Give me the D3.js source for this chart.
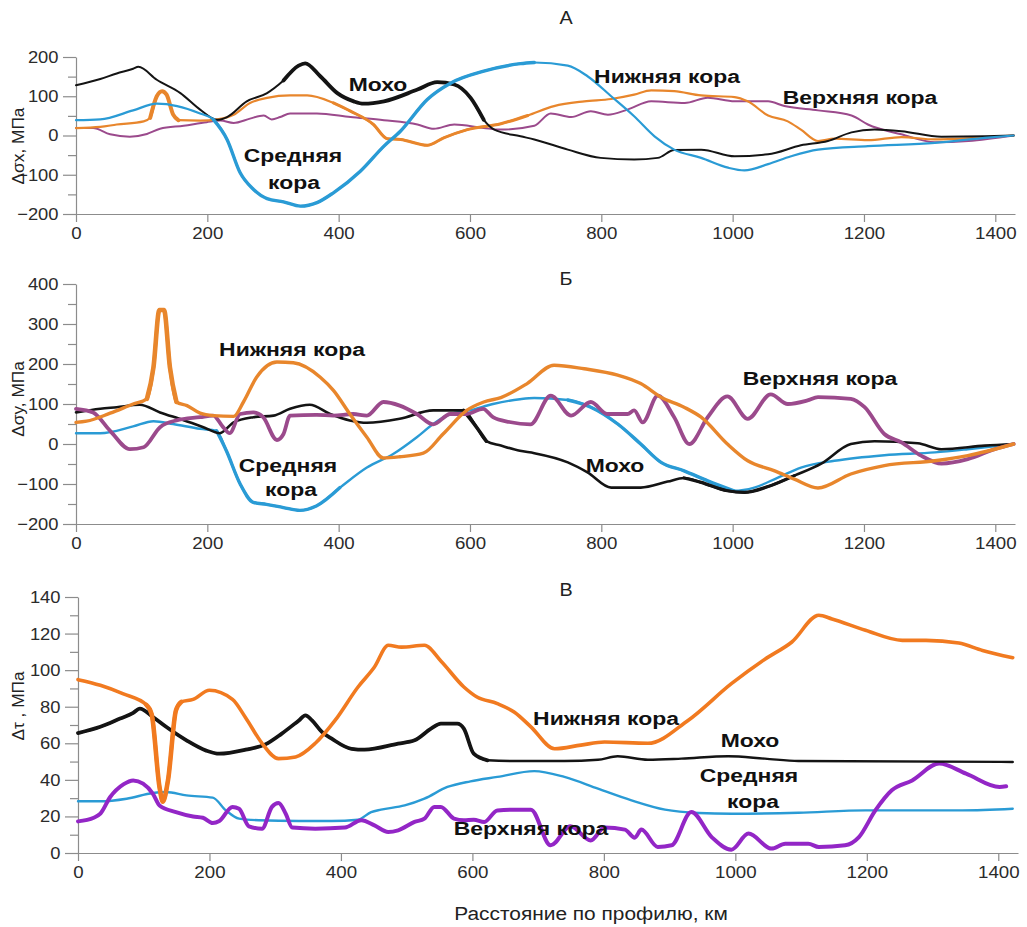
<!DOCTYPE html>
<html>
<head>
<meta charset="utf-8">
<script src="https://cdn.jsdelivr.net/npm/d3@7"></script>
<style>
  html, body { margin: 0; padding: 0; background: #fff; }
  svg { display: block; font-family: "Liberation Sans", Arial, sans-serif; }
</style>
</head>
<body>
<svg id="chart" width="1027" height="927"></svg>
<script>
// ---- shared axis values ----
const distanceTicks = [0, 200, 400, 600, 800, 1000, 1200, 1400];
const sxTicks = [-200, -100, 0, 100, 200];
const syTicks = [-200, -100, 0, 100, 200, 300, 400];
const tauTicks = [0, 20, 40, 60, 80, 100, 120, 140];

// ---- panel А: Δσx, MPa  ([distance km, value]) ----
const sxMoho = [[0,128],[37,144],[62,158],[87,170],[95,175],[123,142],[159,108],[189,66],[215,40],[230,47],[260,87],[291,108],[316,140],[339,178],[349,184],[372,151],[398,108],[423,87],[438,81],[469,87],[520,117],[550,136],[576,130],[601,96],[621,40],[637,15],[677,-2],[698,-10],[749,-36],[799,-57],[850,-61],[886,-57],[911,-37],[952,-36],[1003,-53],[1054,-48],[1104,-25],[1145,-14],[1181,8],[1216,15],[1257,11],[1318,-3],[1384,-2],[1428,0]];
const sxMiddle = [[0,39],[37,41],[87,64],[123,81],[154,75],[189,56],[209,41],[230,-10],[250,-95],[270,-137],[291,-161],[316,-169],[342,-180],[367,-171],[392,-146],[433,-91],[469,-27],[494,11],[535,92],[571,134],[621,164],[677,183],[698,186],[749,178],[779,151],[815,100],[850,49],[881,-2],[911,-36],[952,-57],[993,-82],[1018,-89],[1054,-73],[1089,-53],[1130,-36],[1206,-27],[1308,-19],[1384,-6],[1428,0]];
const sxLower = [[0,19],[37,22],[62,28],[103,36],[113,45],[123,100],[131,113],[138,104],[148,53],[156,39],[189,38],[215,41],[240,53],[265,83],[291,96],[326,102],[352,102],[392,83],[418,62],[453,28],[474,-8],[494,-10],[535,-25],[560,-6],[596,15],[647,30],[688,51],[728,75],[774,87],[815,93],[850,104],[876,115],[911,113],[952,102],[1003,98],[1023,87],[1054,51],[1084,36],[1104,15],[1130,-14],[1155,-8],[1206,-12],[1257,-4],[1308,-10],[1369,-6],[1428,0]];
const sxUpper = [[0,19],[26,19],[52,3],[82,-3],[108,4],[128,17],[164,25],[199,34],[220,38],[240,32],[265,43],[286,51],[298,41],[311,47],[326,56],[367,56],[418,47],[469,39],[520,28],[545,17],[576,28],[621,19],[647,15],[698,25],[723,56],[754,47],[784,62],[810,53],[840,66],[876,87],[927,83],[962,96],[1003,87],[1054,87],[1079,75],[1130,64],[1181,51],[1206,28],[1257,3],[1308,-17],[1359,-14],[1428,0]];

// ---- panel Б: Δσy, MPa ----
const syMoho = [[0,79],[37,88],[62,92],[97,98],[128,79],[163,60],[194,42],[219,27],[240,54],[270,67],[301,71],[326,88],[356,98],[387,75],[417,59],[443,53],[493,63],[544,84],[590,84],[610,42],[625,7],[647,-4],[676,-17],[698,-23],[749,-46],[779,-71],[815,-109],[860,-109],[901,-94],[926,-85],[952,-96],[992,-117],[1018,-121],[1053,-107],[1094,-79],[1135,-49],[1180,0],[1216,7],[1282,2],[1318,-13],[1384,-4],[1428,0]];
const syMiddle = [[0,27],[37,27],[87,44],[118,57],[148,50],[189,38],[214,33],[229,-17],[250,-100],[270,-146],[290,-151],[316,-159],[341,-166],[366,-155],[402,-109],[443,-59],[483,-25],[519,17],[544,50],[570,75],[600,84],[635,100],[676,112],[698,115],[749,110],[784,92],[825,50],[860,0],[891,-46],[926,-67],[962,-92],[1002,-117],[1033,-109],[1069,-84],[1104,-59],[1155,-42],[1231,-28],[1308,-21],[1358,-13],[1428,0]];
const syLower = [[0,54],[16,57],[52,77],[87,100],[108,113],[118,192],[127,335],[134,335],[143,192],[153,105],[169,96],[189,77],[209,71],[240,69],[255,105],[275,167],[306,205],[331,203],[372,167],[392,134],[417,75],[443,17],[468,-35],[493,-32],[529,-23],[559,25],[595,84],[621,105],[647,116],[687,151],[728,197],[774,188],[825,172],[860,151],[891,117],[926,92],[952,67],[992,0],[1023,-42],[1064,-67],[1094,-88],[1130,-110],[1180,-75],[1231,-54],[1308,-42],[1358,-29],[1428,0]];
const syUpper = [[0,88],[26,79],[52,33],[82,-13],[103,-8],[128,42],[153,59],[189,67],[209,71],[224,42],[234,27],[250,75],[270,79],[285,67],[306,10],[316,25],[326,71],[366,73],[392,71],[422,75],[443,71],[468,105],[493,96],[519,75],[544,49],[570,75],[595,75],[620,88],[635,67],[660,55],[692,49],[723,121],[754,71],[784,105],[809,75],[840,75],[850,84],[863,54],[886,121],[911,67],[934,0],[962,67],[992,119],[1023,63],[1058,124],[1084,100],[1114,109],[1130,117],[1180,113],[1201,92],[1231,25],[1257,4],[1287,-29],[1318,-49],[1358,-38],[1399,-13],[1428,0]];

// ---- panel В: Δτ, MPa ----
const tauLower = [[0,94.8],[34,91.7],[69,87],[104,81],[112,76],[124,36],[129,28],[137,40],[149,78],[157,82.6],[175,84],[200,89],[235,84],[255,74],[280,60],[305,51.6],[331,52.5],[361,60],[391,72.5],[426,90.8],[451,101.7],[472,113.6],[492,112.6],[527,113.6],[552,105],[587,90.8],[607,85.3],[638,81.7],[664,77],[689,69],[725,57],[765,59],[801,60.7],[867,60],[928,72.5],[994,92.6],[1045,106],[1086,115.4],[1127,130],[1147,128],[1198,121.8],[1254,116.3],[1290,116.3],[1340,114.8],[1376,110.8],[1422,106.8]];
const tauMoho = [[0,65.6],[34,69],[64,73.5],[84,76.6],[94,79],[114,74.4],[134,69],[165,61.6],[195,56],[215,54.3],[255,56.5],[285,59.4],[310,65.3],[336,72.5],[346,75.3],[356,72.5],[371,66.2],[386,62.5],[416,57],[436,56.5],[487,59.8],[512,61.6],[537,68],[552,70.7],[577,70.7],[587,68],[602,54.3],[623,50.7],[668,50.3],[740,50.3],[791,51],[821,52.9],[867,51],[918,51.6],[989,52.9],[1045,51.6],[1096,50.3],[1422,49.8]];
const tauMiddle = [[0,28.3],[34,28.3],[74,29.7],[114,32.8],[134,33.4],[165,31.5],[205,30.3],[225,23.3],[245,18.8],[275,17.9],[336,17.5],[386,17.5],[426,18.2],[446,22.4],[461,23.7],[497,26],[527,29.7],[562,36.1],[597,39.2],[638,41.6],[694,44.8],[740,41.6],[791,35.2],[842,28.8],[893,23.7],[944,21.9],[994,21.5],[1096,22],[1198,23.3],[1345,23.3],[1422,24.2]];
const tauUpper = [[0,17.3],[24,19.3],[34,21.5],[49,30.6],[69,37.5],[84,39.7],[99,37.9],[114,32.4],[124,26],[149,22.4],[175,20],[190,19.3],[205,16.4],[215,17.5],[235,25.2],[245,24.2],[260,14.6],[280,13.3],[295,25.2],[305,27.3],[316,21.5],[326,13.9],[361,13.3],[406,13.9],[431,17.9],[451,15.1],[472,11.5],[487,12.4],[512,17],[527,18.8],[542,25.2],[552,25.2],[572,18.8],[587,17.9],[602,18.2],[618,17],[638,23.3],[668,23.7],[689,23.7],[719,4.2],[749,14.6],[780,6.9],[801,13.9],[832,12.8],[847,8.4],[857,12.8],[882,3.3],[903,4.2],[933,22.4],[964,8.7],[994,1.8],[1020,10.6],[1055,2.4],[1076,5.1],[1111,5.1],[1127,3.3],[1167,4.2],[1188,8.7],[1213,23.3],[1238,34.3],[1269,39.7],[1310,48.9],[1351,43.4],[1402,36.1],[1412,36.5]];

// ---- drawing ----
const SX = 1.24;          // horizontal stretch of the bold layer names
const svg = d3.select("#chart");

const C = {
  black: "#141414",
  blue: "#2a9bd5",
  orange: "#e8862c",
  mauve: "#9b4a8c",
  orangeC: "#f17a20",
  violet: "#9326c6"
};

function label(g, x, y, str, o = {}) {
  return g.append("text")
    .attr("transform", `translate(${x},${y}) scale(${o.sx || SX},1)`)
    .attr("text-anchor", o.anchor || "middle")
    .attr("font-size", o.size || 18.5)
    .attr("font-weight", o.weight || "bold")
    .attr("fill", o.fill || "#111")
    .text(str);
}

// each series: base width w, plus optional heavier stretches [fromKm, toKm, width]
const panels = [
  {
    title: "А", titleY: 24, yLabel: "Δσx, МПа", yLabelY: 146,
    x0: 76, x1: 1015, yTop: 57, yBot: 214, domain: [-200, 200], ticks: sxTicks, minor: 50,
    series: [
      { d: sxUpper, c: C.mauve, w: 2 },
      { d: sxLower, c: C.orange, w: 2.2, heavy: [[105, 160, 4], [380, 700, 3]] },
      { d: sxMoho, c: C.black, w: 2, heavy: [[300, 630, 3.8]] },
      { d: sxMiddle, c: C.blue, w: 2.2, heavy: [[200, 720, 3.4]] }
    ],
    labels: [
      ["Мохо", 378, 91], ["Нижняя кора", 667, 83], ["Верхняя кора", 860, 104],
      ["Средняя", 293, 162], ["кора", 294, 189]
    ]
  },
  {
    title: "Б", titleY: 285, yLabel: "Δσy, МПа", yLabelY: 399,
    x0: 76, x1: 1015, yTop: 284, yBot: 524, domain: [-200, 400], ticks: syTicks, minor: 50,
    series: [
      { d: syMiddle, c: C.blue, w: 2.4, heavy: [[200, 420, 3.4], [700, 1010, 3.4]] },
      { d: syMoho, c: C.black, w: 2.6, heavy: [[560, 640, 3.6], [920, 1100, 3.2]] },
      { d: syUpper, c: C.mauve, w: 3.8 },
      { d: syLower, c: C.orange, w: 3.4, heavy: [[100, 160, 4.6]] }
    ],
    labels: [
      ["Нижняя кора", 292, 356], ["Верхняя кора", 820, 385], ["Мохо", 615, 472],
      ["Средняя", 288, 472], ["кора", 291, 496]
    ]
  },
  {
    title: "В", titleY: 596, yLabel: "Δτ , МПа", yLabelY: 706,
    x0: 78, x1: 1018, yTop: 597, yBot: 853, domain: [0, 140], ticks: tauTicks, minor: 10,
    series: [
      { d: tauMiddle, c: C.blue, w: 2.4 },
      { d: tauUpper, c: C.violet, w: 4 },
      { d: tauMoho, c: C.black, w: 2.4, heavy: [[0, 630, 3.8]] },
      { d: tauLower, c: C.orangeC, w: 3.6, heavy: [[100, 160, 4.6]] }
    ],
    labels: [
      ["Нижняя кора", 606, 725], ["Мохо", 750, 747], ["Средняя", 749, 782],
      ["кора", 753, 808], ["Верхняя кора", 531, 835]
    ]
  }
];

panels.forEach(p => {
  const g = svg.append("g");
  const x = d3.scaleLinear().domain([0, 1430]).range([p.x0, p.x1]);
  const y = d3.scaleLinear().domain(p.domain).range([p.yBot, p.yTop]);

  // minor y ticks
  const minorVals = d3.range(p.domain[0], p.domain[1] + 1e-9, p.minor).filter(v => !p.ticks.includes(v));
  g.append("g").attr("transform", `translate(${p.x0},0)`)
    .call(d3.axisLeft(y).tickValues(minorVals).tickSize(8).tickFormat(""))
    .call(a => a.select(".domain").remove())
    .call(a => a.selectAll("line").attr("stroke", "#8c8c8c").attr("stroke-width", 1.2));

  // major y ticks
  g.append("g").attr("transform", `translate(${p.x0},0)`)
    .call(d3.axisLeft(y).tickValues(p.ticks).tickSize(13).tickSizeOuter(0).tickPadding(6).tickFormat(d3.format("d")))
    .call(a => a.select(".domain").attr("stroke", "#8c8c8c").attr("stroke-width", 1.2))
    .call(a => a.selectAll("line").attr("stroke", "#8c8c8c").attr("stroke-width", 1.2))
    .call(a => a.selectAll("text")
      .attr("font-size", 17).attr("fill", "#2b2b2b")
      .attr("font-family", "'Liberation Sans', Arial, sans-serif")
      .attr("transform", function () {
        const xx = +d3.select(this).attr("x");
        return `translate(${xx * (1 - 1.08)},0) scale(1.08,1)`;
      })
      .attr("x", function () { return +d3.select(this).attr("x") / 1.08; }));

  // x axis
  g.append("g").attr("transform", `translate(0,${p.yBot})`)
    .call(d3.axisBottom(x).tickValues(distanceTicks).tickSize(8).tickSizeOuter(0).tickPadding(5).tickFormat(d3.format("d")))
    .call(a => a.select(".domain").attr("stroke", "#8c8c8c").attr("stroke-width", 1.2))
    .call(a => a.selectAll("line").attr("stroke", "#8c8c8c").attr("stroke-width", 1.2))
    .call(a => a.selectAll("text")
      .attr("font-size", 17).attr("fill", "#2b2b2b")
      .attr("font-family", "'Liberation Sans', Arial, sans-serif")
      .attr("transform", "scale(1.1,1)"));

  // y axis title
  g.append("text")
    .attr("transform", `translate(24,${p.yLabelY}) rotate(-90) scale(1.08,1)`)
    .attr("text-anchor", "middle")
    .attr("font-size", 16).attr("fill", "#222")
    .text(p.yLabel);

  // panel letter
  label(g, 566, p.titleY, p.title, { weight: "normal", size: 18, fill: "#222", sx: 1.1 });

  // curves
  const line = d3.line().x(d => x(d[0])).y(d => y(d[1])).curve(d3.curveMonotoneX);
  p.series.forEach(s => {
    const draw = (data, w) => g.append("path").datum(data)
      .attr("d", line)
      .attr("fill", "none")
      .attr("stroke", s.c)
      .attr("stroke-width", w)
      .attr("stroke-linejoin", "round")
      .attr("stroke-linecap", "round");
    draw(s.d, s.w);
    (s.heavy || []).forEach(([a, b, w]) => draw(s.d.filter(d => d[0] >= a && d[0] <= b), w));
  });

  // layer names
  p.labels.forEach(([t, lx, ly]) => label(g, lx, ly, t));
});

// distance axis title
label(svg, 591, 920, "Расстояние по профилю, км", { weight: "normal", size: 18, fill: "#222", sx: 1.16 });
</script>
</body>
</html>
